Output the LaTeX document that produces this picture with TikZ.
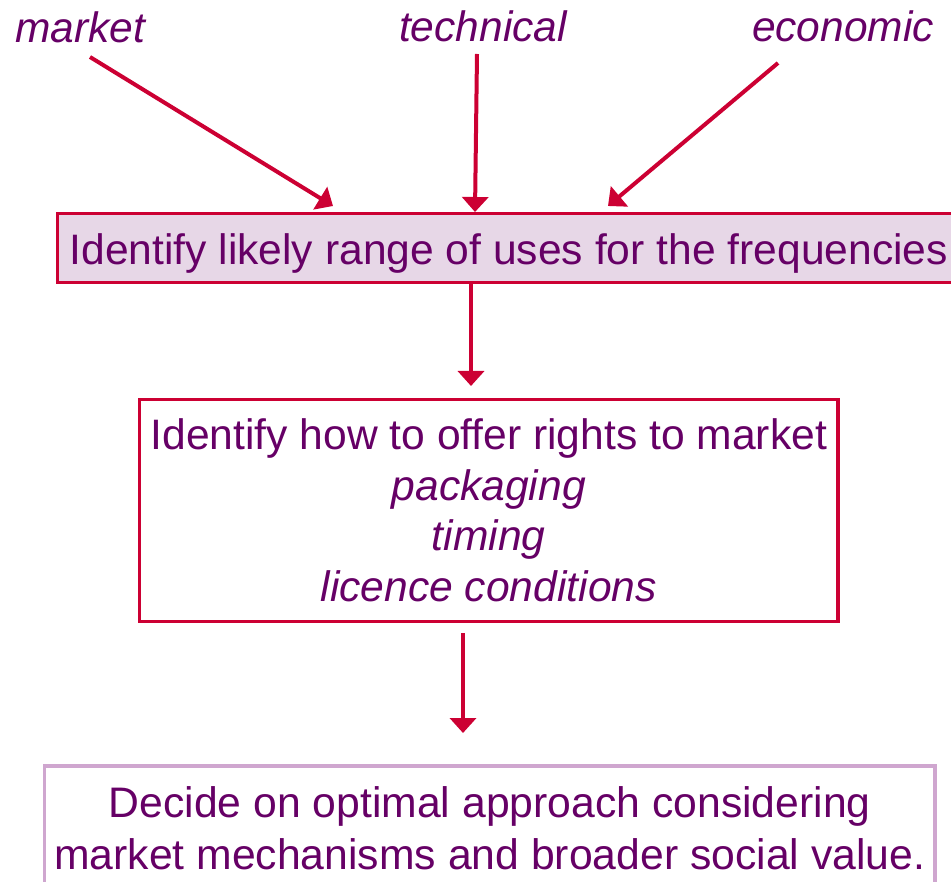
\documentclass[tikz,border=0pt]{standalone}
\usepackage{fontspec}
\setmainfont{Liberation Sans}
\usetikzlibrary{arrows.meta}
\definecolor{arrred}{HTML}{CC0033}
\definecolor{txtpurple}{HTML}{660066}
\definecolor{boxfill}{HTML}{E7D7E7}
\definecolor{lightborder}{HTML}{CFA6CF}
\begin{document}
\begin{tikzpicture}[x=1pt,y=-1pt,
  lab/.style={anchor=base, text=txtpurple, font=\fontsize{42.5}{50}\selectfont\itshape, inner sep=0pt},
  boxtext/.style={text=txtpurple, align=center, inner sep=0pt, line width=3.4pt},
  arr/.style={draw=arrred, line width=4pt, -{Triangle[width=26pt,length=15pt]}}]
\useasboundingbox (0,0) rectangle (951,882);
% labels
\node[lab] (market) at (80,43) {market};
\node[lab] (technical) at (483,42) {technical};
\node[lab] (economic) at (843,42) {economic};
% boxes
\node[boxtext, draw=arrred, fill=boxfill, minimum width=902.5pt, minimum height=69pt,
      text height=34pt, text depth=0pt,
      font=\fontsize{42.6}{50.5}\selectfont] (b1) at (508.75,248)
  {Identify likely range of uses for the frequencies};
\node[boxtext, draw=arrred, fill=white, minimum width=698.5pt, minimum height=222.5pt,
      font=\fontsize{42.6}{50.5}\selectfont] (b2) at (488.75,510.5)
  {Identify how to offer rights to market\\ \textit{packaging}\\ \textit{timing}\\ \textit{licence conditions}};
\node[boxtext, draw=lightborder, fill=white, minimum width=890.5pt, minimum height=124pt,
      font=\fontsize{42.7}{51.5}\selectfont] (b3) at (489.75,828)
  {Decide on optimal approach considering\\ market mechanisms and broader social value.};
% arrow coordinates
\coordinate (m1) at (90,57);
\coordinate (m2) at (333,206);
\coordinate (t1) at (477,54);
\coordinate (t2) at (475,212);
\coordinate (e1) at (778,63);
\coordinate (e2) at (608,206);
\coordinate (a12) at (471,386);
\coordinate (a23s) at (463,633);
\coordinate (a23) at (463,733);
\draw[arr] (m1) -- (m2);
\draw[arr] (t1) -- (t2);
\draw[arr] (e1) -- (e2);
\draw[arr] (b1.south -| a12) -- (a12);
\draw[arr] (a23s) -- (a23);
\end{tikzpicture}
\end{document}
